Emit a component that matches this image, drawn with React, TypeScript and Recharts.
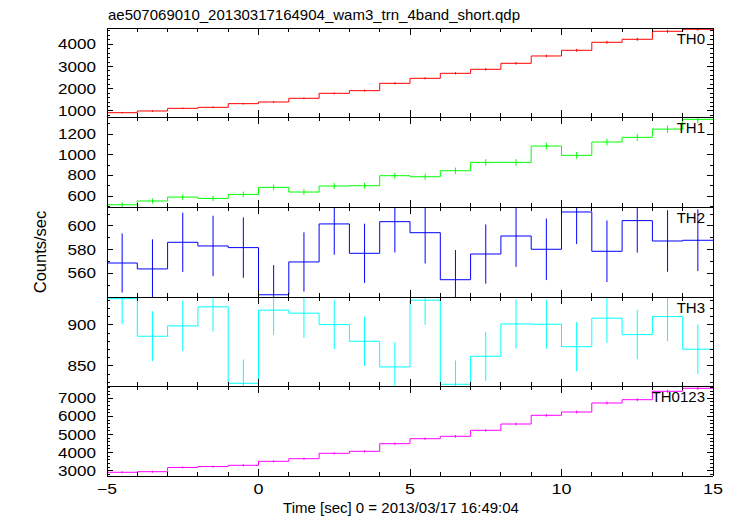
import React from "react";
import { ComposedChart, Line, Scatter, ErrorBar, XAxis, YAxis } from "recharts";

const FONT = '"Liberation Sans", Arial, Helvetica, sans-serif';

// bin centres (1 s bins)
const TIME = [
  -4.5, -3.5, -2.5, -1.5, -0.5, 0.5, 1.5, 2.5, 3.5, 4.5,
  5.5, 6.5, 7.5, 8.5, 9.5, 10.5, 11.5, 12.5, 13.5, 14.5,
];

const TH0 = [924, 1000, 1120, 1165, 1330, 1405, 1570, 1795, 1915, 2245, 2470, 2695, 2875, 3145, 3475, 3730, 4090, 4225, 4585, 4675];
const TH0_ERR = [35, 35, 36, 38, 38, 40, 40, 42, 45, 48, 50, 52, 55, 57, 60, 62, 65, 66, 68, 69];

const TH1 = [516, 552, 590, 577, 616, 684, 639, 697, 700, 797, 787, 845, 926, 926, 1084, 994, 1123, 1168, 1248, 1342];
const TH1_ERR = [25, 25, 26, 26, 27, 28, 28, 28, 28, 30, 30, 30, 31, 31, 33, 32, 33, 34, 35, 36];

const TH2 = [568.7, 563.7, 586.2, 583.1, 581.7, 541.9, 569.6, 601.7, 576.9, 603.6, 594.3, 554.6, 576.3, 591.5, 580.3, 611.8, 578.6, 604.5, 587.3, 587.9];
const TH2_ERR = [25, 25, 25, 25.5, 25.5, 25, 25, 26, 25, 26, 26, 25, 25, 26, 26, 27, 26, 27, 26, 26];

const TH3 = [932, 886.2, 898.8, 922, 828.9, 918, 914.3, 900.4, 880.1, 848.8, 930.1, 827.7, 861.8, 901.2, 900.8, 873.5, 908.2, 888.2, 910.1, 870.4];
const TH3_ERR = [31, 30.5, 30.5, 30, 29, 30, 30, 30, 30, 30, 30, 29, 30, 30, 30, 30, 30, 30, 30, 30];

const TH0123 = [2912, 2945, 3180, 3230, 3298, 3519, 3663, 3961, 4072, 4492, 4768, 4900, 5232, 5580, 6061, 6243, 6740, 6923, 7387, 7552];
const TH0123_ERR = [55, 55, 57, 58, 58, 60, 61, 63, 64, 67, 69, 70, 72, 75, 78, 79, 82, 83, 86, 87];

const X_DOMAIN: [number, number] = [-5, 15];
const X_MAJOR = [-5, 0, 5, 10, 15];

const range = (a: number, b: number, s: number) => {
  const out: number[] = [];
  for (let v = a; v <= b + 1e-9; v += s) out.push(Math.round(v * 1000) / 1000);
  return out;
};
const X_MINOR = range(-5, 15, 1);

const PANELS = [
  { name: "TH0", color: "#ff0000", values: TH0, errors: TH0_ERR, domain: [730, 4733], labels: [1000, 2000, 3000, 4000], minor: range(800, 4600, 200), top: 28, height: 89 },
  { name: "TH1", color: "#00ff00", values: TH1, errors: TH1_ERR, domain: [494, 1365], labels: [600, 800, 1000, 1200], minor: range(500, 1300, 100), top: 117, height: 90 },
  { name: "TH2", color: "#0000ff", values: TH2, errors: TH2_ERR, domain: [540, 616], labels: [560, 580, 600], minor: range(550, 610, 10), top: 207, height: 90 },
  { name: "TH3", color: "#00ffff", values: TH3, errors: TH3_ERR, domain: [825.6, 934], labels: [850, 900], minor: range(830, 930, 10), top: 297, height: 89 },
  { name: "TH0123", color: "#ff00ff", values: TH0123, errors: TH0123_ERR, domain: [2707, 7680], labels: [3000, 4000, 5000, 6000, 7000], minor: range(2800, 7600, 200), top: 386, height: 90 },
];

const PAD_TOP = 10;
const CHAR_W = 9.5; // the qdp tick font is wide and low
const fmt = (v: number) => (v < 0 ? `\u2212${Math.abs(v)}` : `${v}`);

// inward tick marks (major longer) + optional label, drawn at the axis' own tick coordinates
const yTick = (side: "left" | "right", majors: number[], withLabel: boolean) => (props: any) => {
  const { x, y, payload } = props;
  const major = majors.includes(payload.value);
  const dir = side === "left" ? 1 : -1;
  const s = `${payload.value}`;
  return (
    <g>
      <line x1={x} y1={y} x2={x + dir * (major ? 6 : 3)} y2={y} stroke="#000" shapeRendering="crispEdges" />
      {withLabel && major && (
        <text x={x - 11} y={y} dy="0.36em" textAnchor="end" fill="#000" fontSize={14} fontFamily={FONT} textLength={s.length * CHAR_W} lengthAdjust="spacingAndGlyphs">
          {s}
        </text>
      )}
    </g>
  );
};

const xTick = (side: "top" | "bottom", withLabel: boolean) => (props: any) => {
  const { x, y, payload } = props;
  const major = X_MAJOR.includes(payload.value);
  const dir = side === "bottom" ? -1 : 1;
  const s = fmt(payload.value);
  return (
    <g>
      <line x1={x} y1={y} x2={x} y2={y + dir * (major ? 7 : 4)} stroke="#000" shapeRendering="crispEdges" />
      {withLabel && major && (
        <text x={x} y={y + 8} dy="0.72em" textAnchor="middle" fill="#000" fontSize={14.5} fontFamily={FONT} textLength={s.length * 10} lengthAdjust="spacingAndGlyphs">
          {s}
        </text>
      )}
    </g>
  );
};

const frame = { stroke: "#000", shapeRendering: "crispEdges" };

function Panel({ p, showX }: { p: (typeof PANELS)[number]; showX: boolean }) {
  const last = TIME.length - 1;
  const steps = TIME.map((t, i) => ({ x: t - 0.5, y: p.values[i] }));
  steps.push({ x: TIME[last] + 0.5, y: p.values[last] });
  const bars = TIME.map((t, i) => ({ x: t, y: p.values[i], err: p.errors[i] }));
  const padBottom = showX ? 30 : 10;
  const h = p.height + PAD_TOP + padBottom;
  const box = { position: "absolute" as const, left: 0, top: p.top - PAD_TOP, width: 733, height: h };

  return (
    <>
      {/* data layer, clipped to the plot box */}
      <div style={{ ...box, clipPath: `inset(${PAD_TOP}px 20px ${padBottom}px 107px)` }}>
        <ComposedChart width={733} height={h} margin={{ top: PAD_TOP, right: 20, bottom: padBottom, left: 107 }}>
          <XAxis xAxisId="d" dataKey="x" type="number" domain={X_DOMAIN} allowDataOverflow hide />
          <YAxis yAxisId="d" dataKey="y" type="number" domain={p.domain} allowDataOverflow hide />
          <Line xAxisId="d" yAxisId="d" data={steps} dataKey="y" type="stepAfter" stroke={p.color} strokeWidth={1} dot={false} activeDot={false} isAnimationActive={false} />
          <Scatter xAxisId="d" yAxisId="d" data={bars} dataKey="y" shape={() => <g />} isAnimationActive={false}>
            <ErrorBar dataKey="err" direction="y" width={0} stroke={p.color} strokeWidth={1} isAnimationActive={false} />
          </Scatter>
        </ComposedChart>
      </div>
      {/* frame, inward ticks and tick labels */}
      <div style={box}>
        <ComposedChart width={733} height={h} margin={{ top: 0, right: 10, bottom: 0, left: 47 }}>
          <XAxis xAxisId="b" dataKey="x" type="number" domain={X_DOMAIN} ticks={X_MINOR} orientation="bottom" height={padBottom} tickSize={0} tickMargin={0} tickLine={false} axisLine={frame} interval={0} allowDataOverflow tick={xTick("bottom", showX)} />
          <XAxis xAxisId="t" dataKey="x" type="number" domain={X_DOMAIN} ticks={X_MINOR} orientation="top" height={PAD_TOP} tickSize={0} tickMargin={0} tickLine={false} axisLine={frame} interval={0} allowDataOverflow tick={xTick("top", false)} />
          <YAxis yAxisId="l" dataKey="y" type="number" domain={p.domain} ticks={p.minor} orientation="left" width={60} tickSize={0} tickMargin={0} tickLine={false} axisLine={frame} interval={0} allowDataOverflow tick={yTick("left", p.labels, true)} />
          <YAxis yAxisId="r" dataKey="y" type="number" domain={p.domain} ticks={p.minor} orientation="right" width={10} tickSize={0} tickMargin={0} tickLine={false} axisLine={frame} interval={0} allowDataOverflow tick={yTick("right", p.labels, false)} />
          <Line xAxisId="b" yAxisId="l" data={steps} dataKey="y" stroke="none" dot={false} activeDot={false} isAnimationActive={false} />
          <Line xAxisId="t" yAxisId="r" data={steps} dataKey="y" stroke="none" dot={false} activeDot={false} isAnimationActive={false} />
        </ComposedChart>
      </div>
      <div style={{ position: "absolute", right: 28, top: p.top + 1.5, fontSize: 15, lineHeight: "18px", fontFamily: FONT, color: "#000" }}>{p.name}</div>
    </>
  );
}

export default function App() {
  return (
    <div style={{ position: "absolute", left: 0, top: 0, width: 733, height: 516, background: "#fff", fontFamily: FONT, color: "#000" }}>
      <div style={{ position: "absolute", left: 108, top: 6, fontSize: 15, lineHeight: "18px", whiteSpace: "nowrap" }}>
        ae507069010_20130317164904_wam3_trn_4band_short.qdp
      </div>
      {PANELS.map((p, i) => (
        <Panel key={p.name} p={p} showX={i === PANELS.length - 1} />
      ))}
      <div style={{ position: "absolute", left: 40, top: 252, fontSize: 16.5, lineHeight: "18px", whiteSpace: "nowrap", transform: "translate(-50%, -50%) rotate(-90deg)" }}>
        Counts/sec
      </div>
      <div style={{ position: "absolute", left: 0, width: 802, top: 499, textAlign: "center", fontSize: 15, lineHeight: "18px", whiteSpace: "nowrap" }}>
        Time [sec] 0 = 2013/03/17 16:49:04
      </div>
    </div>
  );
}
